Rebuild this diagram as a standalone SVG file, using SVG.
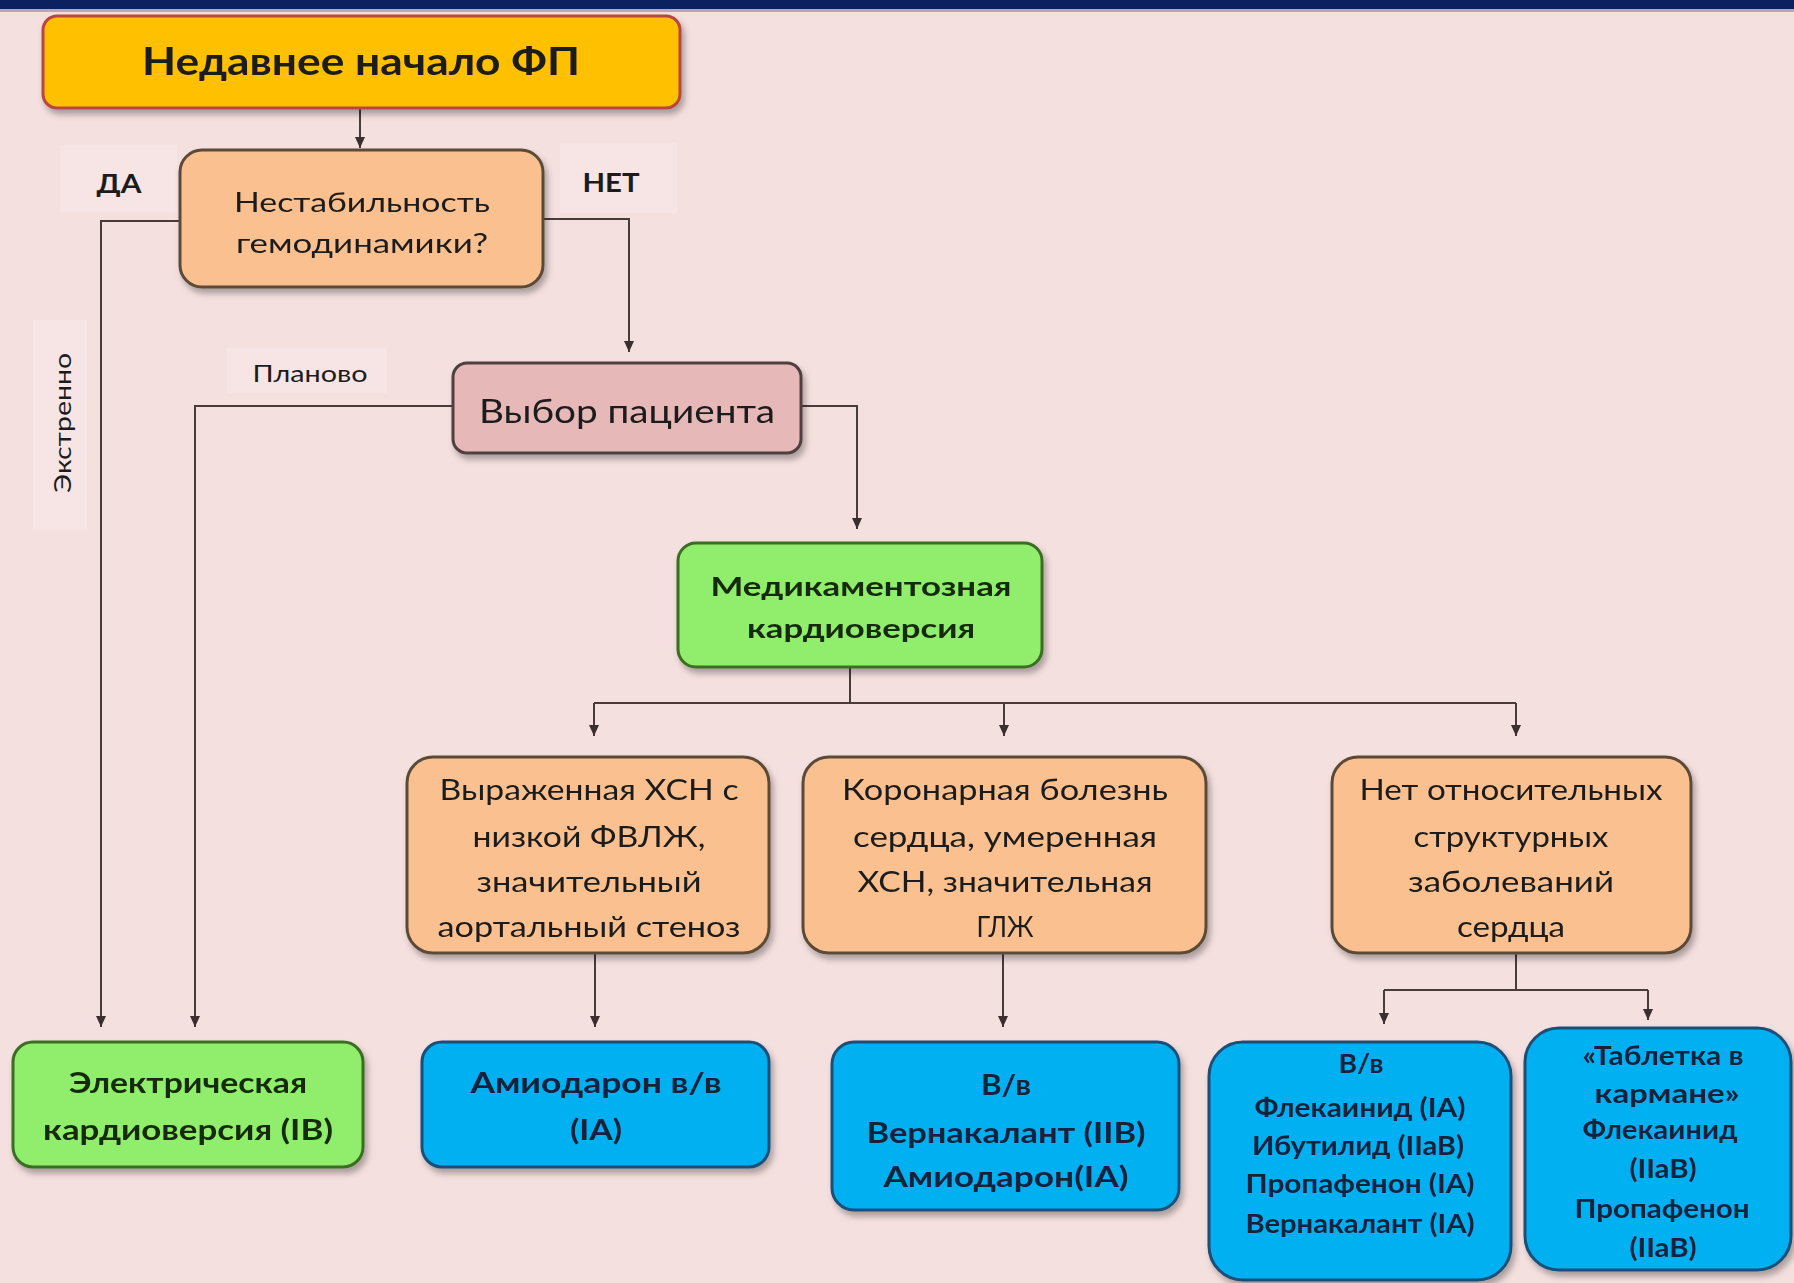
<svg xmlns="http://www.w3.org/2000/svg" width="1794" height="1283" viewBox="0 0 1794 1283">
<defs>
<style>
.t{font-family:Lato,"Liberation Sans","DejaVu Sans",sans-serif;text-anchor:middle}
.b{font-weight:bold}
.r{font-weight:normal}
.peach{fill:#FAC08F;stroke:#5C4A37;stroke-width:3}
.green{fill:#90EE6C;stroke:#3B6E23;stroke-width:3}
.blue{fill:#00B0F0;stroke:#1B4F78;stroke-width:3}
.pink{fill:#E6B9B8;stroke:#4F3F3F;stroke-width:3}
.gold{fill:#FFC000;stroke:#B8463F;stroke-width:3}
.tk{fill:#1c1c1c}
.tg{fill:#15290c}
.tb{fill:#14203A}
.lbl{fill:#F6E5E4}
.c{fill:none;stroke:#4A3B3B;stroke-width:2}
</style>
<filter id="sh" x="-10%" y="-10%" width="125%" height="130%">
<feDropShadow dx="3" dy="5" stdDeviation="3" flood-color="#000" flood-opacity="0.3"/>
</filter>
<marker id="ar" markerUnits="userSpaceOnUse" markerWidth="12" markerHeight="12" refX="11" refY="5" orient="auto">
<path d="M0,0 L11,5 L0,10 z" fill="#3A2E2E"/>
</marker>
</defs>
<rect x="0" y="0" width="1794" height="1283" fill="#F4E0DF"/>
<rect x="0" y="0" width="1794" height="9" fill="#0B2160"/>
<rect x="0" y="9" width="1794" height="3" fill="#B8A9B0"/>

<g id="labels">
<rect class="lbl" x="60" y="145" width="117" height="67"/>
<text class="t b tk" x="119" y="193" font-size="26" textLength="45" lengthAdjust="spacingAndGlyphs">ДА</text>
<rect class="lbl" x="560" y="143" width="117" height="70"/>
<text class="t b tk" x="611" y="192" font-size="26" textLength="57" lengthAdjust="spacingAndGlyphs">НЕТ</text>
<rect class="lbl" x="227" y="348" width="160" height="45"/>
<text class="t r tk" x="310" y="382" font-size="23" textLength="115" lengthAdjust="spacingAndGlyphs">Планово</text>
<rect class="lbl" x="33" y="320" width="54" height="210"/>
<text class="t r tk" transform="translate(71,423) rotate(-90)" x="0" y="0" font-size="24" textLength="140" lengthAdjust="spacingAndGlyphs">Экстренно</text>
</g>

<g id="connectors">
<path class="c" d="M360,108 V148" marker-end="url(#ar)"/>
<path class="c" d="M180,221 H101 V1027" marker-end="url(#ar)"/>
<path class="c" d="M543,219 H629 V352" marker-end="url(#ar)"/>
<path class="c" d="M453,406 H195 V1027" marker-end="url(#ar)"/>
<path class="c" d="M801,406 H857 V529" marker-end="url(#ar)"/>
<path class="c" d="M850,667 V703"/>
<path class="c" d="M594,703 H1516"/>
<path class="c" d="M594,703 V736" marker-end="url(#ar)"/>
<path class="c" d="M1004,703 V736" marker-end="url(#ar)"/>
<path class="c" d="M1516,703 V736" marker-end="url(#ar)"/>
<path class="c" d="M595,953 V1027" marker-end="url(#ar)"/>
<path class="c" d="M1003,953 V1027" marker-end="url(#ar)"/>
<path class="c" d="M1516,953 V990"/>
<path class="c" d="M1384,990 H1648"/>
<path class="c" d="M1384,990 V1024" marker-end="url(#ar)"/>
<path class="c" d="M1648,990 V1020" marker-end="url(#ar)"/>
</g>

<g id="n1" filter="url(#sh)">
<rect class="gold" x="43" y="16" width="637" height="92" rx="14"/>
<text class="t b tk" x="361" y="75" font-size="39" textLength="438" lengthAdjust="spacingAndGlyphs">Недавнее начало ФП</text>
</g>

<g id="n2" filter="url(#sh)">
<rect class="peach" x="180" y="150" width="363" height="137" rx="22"/>
<text class="t r tk" x="362" y="212" font-size="27" textLength="256" lengthAdjust="spacingAndGlyphs">Нестабильность</text>
<text class="t r tk" x="362" y="253" font-size="27" textLength="252" lengthAdjust="spacingAndGlyphs">гемодинамики?</text>
</g>

<g id="n3" filter="url(#sh)">
<rect class="pink" x="453" y="363" width="348" height="90" rx="14"/>
<text class="t r tk" x="627" y="423" font-size="32" textLength="296" lengthAdjust="spacingAndGlyphs">Выбор пациента</text>
</g>

<g id="n4" filter="url(#sh)">
<rect class="green" x="678" y="543" width="364" height="124" rx="18"/>
<text class="t b tg" x="861" y="596" font-size="27" textLength="301" lengthAdjust="spacingAndGlyphs">Медикаментозная</text>
<text class="t b tg" x="861" y="638" font-size="27" textLength="228" lengthAdjust="spacingAndGlyphs">кардиоверсия</text>
</g>

<g id="n5a" filter="url(#sh)">
<rect class="peach" x="407" y="757" width="362" height="196" rx="26"/>
<text class="t r tk" x="589" y="800" font-size="28" textLength="299" lengthAdjust="spacingAndGlyphs">Выраженная ХСН с</text>
<text class="t r tk" x="589" y="847" font-size="28" textLength="233" lengthAdjust="spacingAndGlyphs">низкой ФВЛЖ,</text>
<text class="t r tk" x="589" y="892" font-size="28" textLength="225" lengthAdjust="spacingAndGlyphs">значительный</text>
<text class="t r tk" x="589" y="937" font-size="28" textLength="303" lengthAdjust="spacingAndGlyphs">аортальный стеноз</text>
</g>

<g id="n5b" filter="url(#sh)">
<rect class="peach" x="803" y="757" width="403" height="196" rx="26"/>
<text class="t r tk" x="1005" y="800" font-size="28" textLength="326" lengthAdjust="spacingAndGlyphs">Коронарная болезнь</text>
<text class="t r tk" x="1005" y="847" font-size="28" textLength="304" lengthAdjust="spacingAndGlyphs">сердца, умеренная</text>
<text class="t r tk" x="1005" y="892" font-size="28" textLength="295" lengthAdjust="spacingAndGlyphs">ХСН, значительная</text>
<text class="t r tk" x="1005" y="937" font-size="28" textLength="57" lengthAdjust="spacingAndGlyphs">ГЛЖ</text>
</g>

<g id="n5c" filter="url(#sh)">
<rect class="peach" x="1332" y="757" width="359" height="196" rx="26"/>
<text class="t r tk" x="1511" y="800" font-size="28" textLength="303" lengthAdjust="spacingAndGlyphs">Нет относительных</text>
<text class="t r tk" x="1511" y="847" font-size="28" textLength="195" lengthAdjust="spacingAndGlyphs">структурных</text>
<text class="t r tk" x="1511" y="892" font-size="28" textLength="206" lengthAdjust="spacingAndGlyphs">заболеваний</text>
<text class="t r tk" x="1511" y="937" font-size="28" textLength="108" lengthAdjust="spacingAndGlyphs">сердца</text>
</g>

<g id="n6a" filter="url(#sh)">
<rect class="green" x="13" y="1042" width="350" height="125" rx="20"/>
<text class="t b tg" x="188" y="1093" font-size="29" textLength="238" lengthAdjust="spacingAndGlyphs">Электрическая</text>
<text class="t b tg" x="188" y="1140" font-size="29" textLength="290" lengthAdjust="spacingAndGlyphs">кардиоверсия (IB)</text>
</g>

<g id="n6b" filter="url(#sh)">
<rect class="blue" x="422" y="1042" width="347" height="125" rx="20"/>
<text class="t b tb" x="596" y="1093" font-size="29" textLength="251" lengthAdjust="spacingAndGlyphs">Амиодарон в/в</text>
<text class="t b tb" x="596" y="1140" font-size="29" textLength="52" lengthAdjust="spacingAndGlyphs">(IA)</text>
</g>

<g id="n6c" filter="url(#sh)">
<rect class="blue" x="832" y="1042" width="347" height="168" rx="22"/>
<text class="t b tb" x="1006" y="1095" font-size="29" textLength="50" lengthAdjust="spacingAndGlyphs">В/в</text>
<text class="t b tb" x="1006" y="1143" font-size="29" textLength="279" lengthAdjust="spacingAndGlyphs">Вернакалант (IIB)</text>
<text class="t b tb" x="1006" y="1187" font-size="29" textLength="245" lengthAdjust="spacingAndGlyphs">Амиодарон(IA)</text>
</g>

<g id="n6d" filter="url(#sh)">
<rect class="blue" x="1209" y="1042" width="302" height="238" rx="34"/>
<text class="t b tb" x="1361" y="1073" font-size="27" textLength="45" lengthAdjust="spacingAndGlyphs">В/в</text>
<text class="t b tb" x="1360" y="1117" font-size="27" textLength="211" lengthAdjust="spacingAndGlyphs">Флекаинид (IA)</text>
<text class="t b tb" x="1358" y="1155" font-size="27" textLength="212" lengthAdjust="spacingAndGlyphs">Ибутилид (IIaB)</text>
<text class="t b tb" x="1360" y="1193" font-size="27" textLength="229" lengthAdjust="spacingAndGlyphs">Пропафенон (IA)</text>
<text class="t b tb" x="1360" y="1233" font-size="27" textLength="229" lengthAdjust="spacingAndGlyphs">Вернакалант (IA)</text>
</g>

<g id="n6e" filter="url(#sh)">
<rect class="blue" x="1525" y="1028" width="266" height="242" rx="34"/>
<text class="t b tb" x="1663" y="1065" font-size="27" textLength="161" lengthAdjust="spacingAndGlyphs">«Таблетка в</text>
<text class="t b tb" x="1667" y="1103" font-size="27" textLength="145" lengthAdjust="spacingAndGlyphs">кармане»</text>
<text class="t b tb" x="1660" y="1139" font-size="27" textLength="155" lengthAdjust="spacingAndGlyphs">Флекаинид</text>
<text class="t b tb" x="1663" y="1178" font-size="27" textLength="67" lengthAdjust="spacingAndGlyphs">(IIaB)</text>
<text class="t b tb" x="1662" y="1218" font-size="27" textLength="175" lengthAdjust="spacingAndGlyphs">Пропафенон</text>
<text class="t b tb" x="1663" y="1257" font-size="27" textLength="67" lengthAdjust="spacingAndGlyphs">(IIaB)</text>
</g>
</svg>
